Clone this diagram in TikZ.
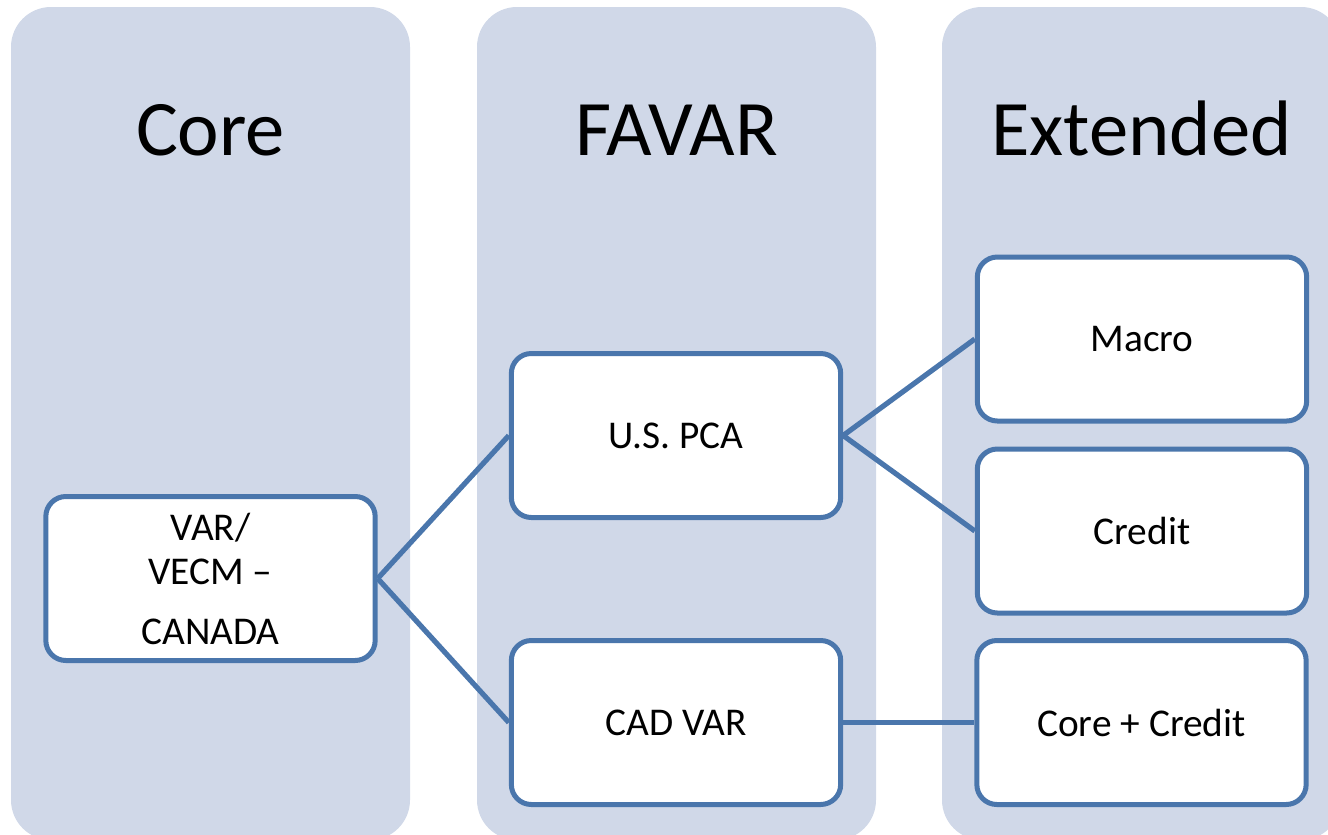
\documentclass[tikz,border=0pt]{standalone}
\usepackage{fontspec}
\setmainfont{Carlito}
\definecolor{colfill}{HTML}{D0D8E8}
\definecolor{boxline}{HTML}{4A76AC}
\begin{document}
\begin{tikzpicture}[x=0.75pt,y=-0.75pt,
  column/.style={fill=colfill, rounded corners=30pt},
  title/.style={anchor=base, inner sep=0pt, font=\fontsize{59}{68}\selectfont},
  stage/.style={draw=boxline, line width=3.75pt, fill=white, rounded corners=15pt,
    minimum width=247pt, minimum height=123pt, inner sep=0pt, align=center,
    font=\fontsize{29.5}{33}\selectfont},
  link/.style={draw=boxline, line width=3.9pt}]
\useasboundingbox (0,0) rectangle (1328,835);
\clip (0,0) rectangle (1328,835);
% three background columns
\fill[column] (11,7) rectangle (410,840);
\fill[column] (477,7) rectangle (876,840);
\fill[column] (942,7) rectangle (1341,840);
% column headings
\node[title] (tcore) at (210.5,155) {Core};
\node[title] (tfavar) at (676.5,155) {FAVAR};
\node[title] (text) at (1141.5,155) {Extended};
% model boxes
\node[stage] (var) at (210.5,578.5) {VAR/\\VECM --\\[12pt]CANADA};
\node[stage] (us) at (676,435.5) {U.S. PCA};
\node[stage] (cad) at (676,722.5) {CAD VAR};
\node[stage] (macro) at (1142,339) {Macro};
\node[stage] (credit) at (1142,531) {Credit};
\node[stage] (cc) at (1141.5,722.5) {Core + Credit};
% connectors
\draw[link] (var.east) -- (us.west);
\draw[link] (var.east) -- (cad.west);
\draw[link] (us.east) -- (macro.west);
\draw[link] (us.east) -- (credit.west);
\draw[link] (cad.east) -- (cc.west);
\end{tikzpicture}
\end{document}
